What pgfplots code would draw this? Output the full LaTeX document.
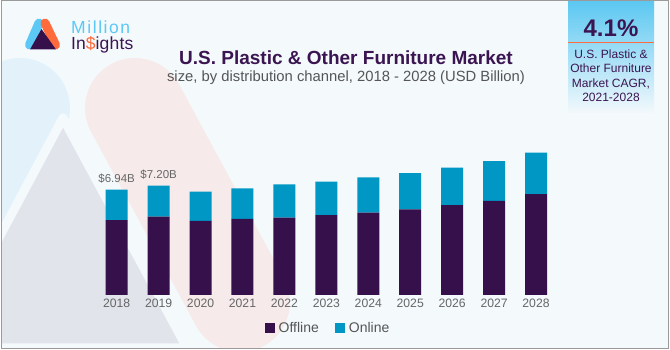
\documentclass[border=0pt]{standalone}
\usepackage{fontspec}
\setmainfont{Liberation Sans}
\usepackage{pgfplots}
\pgfplotsset{compat=1.18}
\definecolor{bg}{HTML}{F4F9FC}
\definecolor{offc}{HTML}{36104A}
\definecolor{onc}{HTML}{0097C5}
\definecolor{ttl}{HTML}{3B1551}
\definecolor{tgrey}{HTML}{666666}
\definecolor{sgrey}{HTML}{555555}
\definecolor{wmblue}{HTML}{E3F2FA}
\definecolor{wmpink}{HTML}{F6EBEA}
\definecolor{wmgrey}{HTML}{E1E4EB}
\definecolor{lgblue}{HTML}{5BC8F5}
\definecolor{lgorange}{HTML}{FF6B3D}
\definecolor{panelblue}{HTML}{5AC7F1}
\definecolor{frame}{HTML}{9A9A9A}
\begin{document}
\begin{tikzpicture}
\begin{scope}[x=1pt,y=1pt]
\useasboundingbox (0,0) rectangle (670,350);
\fill[white] (0,0) rectangle (670,350);
\fill[bg] (1,1.5) rectangle (668,349.5);
\begin{scope}
\clip (1,1.5) rectangle (668,349.5);
% watermark logo
\draw[line width=100, line cap=round, wmblue] (20,242) -- (-80,45);
\draw[line width=100, line cap=round, wmpink] (135,242) -- (240,48);
\filldraw[fill=wmgrey, draw=bg, line width=9, line join=round] (63,232) -- (-60,2) -- (187,2) -- cycle;
% right panel
\shade[top color=panelblue, bottom color=bg] (568,350) rectangle (654,236);
\draw[lgorange, line width=1.5] (568,307.3) -- (654,307.3);
\end{scope}
\draw[frame, line width=1] (1,1.5) rectangle (668,349.5);
% panel text
\node[text=ttl, font=\bfseries\fontsize{24}{28}\selectfont] at (611,322) {4.1\%};
\node[text=ttl, font=\fontsize{12}{14.5}\selectfont, align=center, anchor=north] at (611,304)
  {U.S. Plastic \&\\Other Furniture\\Market CAGR,\\2021-2028};
% logo
\draw[lgblue, line width=9, line cap=round] (29.5,305) -- (39,327);
\draw[lgorange, line width=9, line cap=round] (45,327) -- (55.5,305);
\fill[offc] (41.5,321) -- (30,300.5) -- (56,300.5) -- cycle;
\node[anchor=west, text=lgblue, font=\fontsize{17.5}{19}\selectfont\addfontfeature{LetterSpace=9}, inner sep=0] at (71,323) {Million};
\node[anchor=west, text=ttl, font=\fontsize{17.5}{19}\selectfont\addfontfeature{LetterSpace=1}, inner sep=0] at (71,305) {In\textcolor{lgorange}{\$}ights};
% titles
\node[text=ttl, font=\bfseries\fontsize{19}{22}\selectfont] at (346,292) {U.S. Plastic \& Other Furniture Market};
\node[text=sgrey, font=\fontsize{14.8}{17}\selectfont] at (346,272) {size, by distribution channel, 2018 - 2028 (USD Billion)};
\end{scope}
\begin{axis}[at={(95.7pt,55pt)}, anchor=south west, scale only axis,
  width=461.3pt, height=152pt,
  xmin=-0.5, xmax=10.5, ymin=0, ymax=10,
  ybar stacked, bar width=22pt,
  axis line style={draw=none}, tick style={draw=none},
  major tick length=0pt,
  ytick=\empty,
  xtick={0,1,2,3,4,5,6,7,8,9,10},
  xticklabels={2018,2019,2020,2021,2022,2023,2024,2025,2026,2027,2028},
  xticklabel style={font=\fontsize{12.2}{14}\selectfont, text=tgrey, inner sep=2pt, yshift=-1.5pt},
  /pgf/number format/assume math mode=true,
  clip=false,
  legend style={at={(0.5036,-0.217)}, anchor=center, draw=none, fill=none,
    font=\fontsize{14}{16}\selectfont, text=sgrey,
    /tikz/every odd column/.append style={column sep=2pt},
    /tikz/every even column/.append style={column sep=14pt}},
  legend columns=2,
  legend image code/.code={\fill[#1] (0pt,-5pt) rectangle (10pt,5pt);},
]
\addplot[fill=offc, draw=none] coordinates {(0,4.93) (1,5.15) (2,4.87) (3,5.00) (4,5.09) (5,5.26) (6,5.42) (7,5.64) (8,5.92) (9,6.20) (10,6.63)};
\addplot[fill=onc, draw=none] coordinates {(0,2.01) (1,2.05) (2,1.93) (3,2.02) (4,2.19) (5,2.20) (6,2.32) (7,2.37) (8,2.46) (9,2.60) (10,2.73)};
\legend{Offline, Online}
\node[anchor=south, text=tgrey, font=\fontsize{11.5}{13}\selectfont, inner sep=0, yshift=6pt] at (axis cs:0,6.94) {\$6.94B};
\node[anchor=south, text=tgrey, font=\fontsize{11.5}{13}\selectfont, inner sep=0, yshift=6pt] at (axis cs:1,7.20) {\$7.20B};
\end{axis}
\end{tikzpicture}
\end{document}
